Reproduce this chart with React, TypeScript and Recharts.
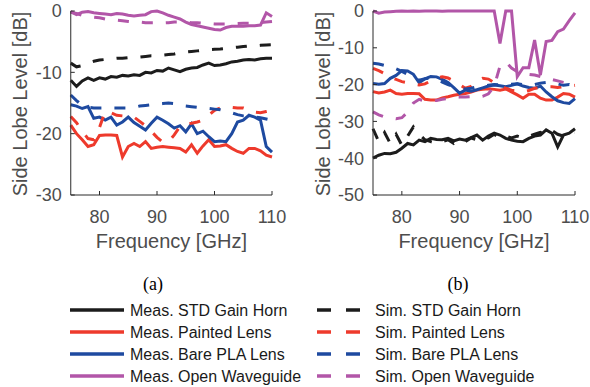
import React from 'react';
import { LineChart, Line, XAxis, YAxis } from 'recharts';

const freq = [
  75, 76, 77, 78, 79, 80, 81, 82, 83, 84, 85, 86, 87, 88, 89, 90, 91, 92,
  93, 94, 95, 96, 97, 98, 99, 100, 101, 102, 103, 104, 105, 106, 107, 108, 109, 110,
];

// (a)
const measStdA = [-11.3, -12.3, -11.4, -10.9, -11.3, -10.9, -11.1, -10.7, -10.8, -10.5, -10.6, -10.4, -10.5, -10.0, -10.1, -9.7, -9.8, -9.3, -9.6, -9.9, -9.5, -9.3, -9.2, -8.8, -8.5, -8.9, -8.8, -8.6, -8.3, -8.2, -8.0, -7.9, -8.0, -7.8, -7.7, -7.7];
const simStdA = [-8.5, -9.1, -8.9, -8.5, -8.2, -8.0, -7.9, -7.8, -7.7, -7.7, -7.6, -7.5, -7.5, -7.4, -7.3, -7.3, -7.2, -7.1, -7.0, -6.8, -6.7, -6.6, -6.5, -6.4, -6.3, -6.25, -6.2, -6.1, -6.0, -5.9, -5.8, -5.7, -5.7, -5.6, -5.55, -5.5];
const measPntA = [-18.6, -20.0, -21.0, -22.1, -21.8, -20.3, -20.2, -20.2, -20.3, -23.8, -22.1, -21.6, -22.1, -21.3, -22.4, -22.2, -22.1, -22.2, -22.3, -22.4, -23.0, -21.8, -23.2, -22.0, -21.0, -22.1, -22.0, -21.8, -22.4, -22.9, -23.2, -22.4, -22.4, -22.8, -23.5, -23.8];
const simPntA = [-17.2, -18.2, -19.6, -20.8, -21.0, -19.0, -16.3, -16.6, -17.0, -17.1, -17.1, -17.3, -18.0, -18.7, -19.6, -20.6, -21.4, -21.3, -20.2, -18.8, -18.4, -18.3, -18.1, -17.8, -17.0, -16.2, -15.8, -15.6, -15.7, -15.8, -15.8, -16.1, -16.5, -16.6, -16.4, -16.2];
const measPlaA = [-15.3, -15.5, -15.9, -15.6, -17.5, -17.3, -17.8, -17.3, -18.6, -18.1, -17.3, -18.2, -18.8, -19.4, -18.3, -17.3, -17.8, -18.4, -19.1, -18.7, -19.7, -18.4, -20.0, -19.6, -20.5, -21.3, -21.2, -21.3, -20.0, -18.1, -17.8, -17.0, -17.3, -17.8, -22.1, -23.0];
const simPlaA = [-13.7, -14.6, -15.4, -15.7, -15.8, -15.8, -15.8, -15.8, -15.8, -15.8, -15.8, -15.7, -15.5, -15.4, -15.3, -15.2, -15.1, -15.0, -15.1, -15.3, -15.5, -15.6, -15.7, -15.8, -15.9, -16.0, -16.1, -16.3, -16.6, -16.9, -17.1, -17.2, -17.3, -17.4, -17.6, -17.8];
const measOwgA = [-0.1, -0.6, -0.2, -0.1, -0.3, -0.4, -0.5, -0.6, -0.4, -0.5, -0.7, -0.8, -0.7, -0.6, -0.1, 0, -0.3, -0.7, -1.0, -1.3, -1.8, -2.2, -2.4, -2.6, -2.8, -3.0, -3.1, -2.7, -2.5, -2.5, -2.5, -2.4, -2.4, -2.3, -0.3, -0.9];
const simOwgA = [-0.2, -0.4, -0.7, -0.9, -1.0, -1.1, -1.3, -1.4, -1.5, -1.6, -1.7, -1.8, -1.8, -1.9, -1.9, -1.9, -1.95, -1.9, -1.8, -1.8, -1.85, -1.9, -1.9, -2.0, -2.0, -2.1, -2.1, -2.1, -2.1, -2.05, -2.0, -2.0, -1.95, -1.9, -1.8, -1.7];

// (b)
const measStdB = [-40.0, -39.2, -38.7, -38.8, -38.4, -37.3, -36.0, -36.4, -35.1, -35.5, -34.6, -34.9, -35.0, -34.6, -35.3, -34.8, -35.1, -34.4, -33.7, -35.1, -34.0, -33.2, -33.7, -34.6, -35.1, -35.4, -35.5, -34.6, -34.0, -33.7, -32.3, -33.2, -36.9, -33.7, -33.2, -32.0];
const simStdB = [-32.0, -35.5, -33.0, -36.0, -33.5, -36.5, -34.0, -31.5, -33.5, -35.0, -35.5, -36.0, -35.5, -35.0, -36.0, -35.0, -35.5, -34.5, -35.0, -34.0, -34.5, -33.5, -34.5, -34.0, -34.5, -34.0, -34.5, -34.0, -33.5, -33.0, -33.5, -32.5, -33.5, -34.0, -33.0, -33.0];
const measPntB = [-21.9, -22.3, -22.0, -21.5, -22.4, -22.6, -22.4, -22.4, -22.5, -24.0, -24.2, -24.2, -23.6, -23.3, -22.9, -22.6, -22.4, -22.0, -21.5, -21.3, -21.1, -21.3, -21.5, -21.2, -22.0, -22.8, -23.7, -22.6, -22.6, -23.7, -24.2, -24.2, -23.4, -22.4, -22.6, -23.4];
const simPntB = [-15.6, -16.2, -17.0, -18.0, -18.6, -19.2, -19.5, -19.8, -20.1, -19.8, -19.0, -18.2, -17.9, -18.2, -19.0, -20.0, -21.0, -20.5, -19.0, -18.3, -18.5, -19.5, -20.5, -21.0, -21.5, -21.8, -22.0, -21.6, -21.0, -20.8, -20.6, -20.6, -20.8, -20.6, -20.4, -20.2];
const measPlaB = [-19.7, -19.9, -19.7, -18.3, -17.5, -16.2, -16.3, -17.2, -19.5, -18.4, -17.8, -17.9, -18.6, -19.4, -20.8, -22.3, -21.5, -21.8, -21.4, -20.9, -20.4, -20.1, -20.3, -20.6, -20.2, -19.8, -20.4, -20.8, -21.0, -20.4, -22.0, -23.3, -24.4, -24.9, -25.1, -23.8];
const simPlaB = [-14.2, -14.4, -14.8, -15.3, -15.7, -16.4, -17.2, -18.0, -18.8, -18.4, -18.2, -18.6, -19.3, -20.0, -20.6, -21.0, -21.2, -21.0, -20.6, -20.4, -20.2, -20.0, -20.1, -20.0, -19.9, -19.8, -20.0, -20.2, -20.0, -19.6, -19.4, -19.5, -19.8, -20.2, -20.0, -20.6];
const measOwgB = [0, -0.6, -0.3, -0.2, -0.1, 0, -0.1, 0, -0.1, 0, 0, 0, -0.1, 0, 0, 0, 0, 0, 0, 0, 0, 0, -8.8, 0, 0, -17.8, -15.4, -15.4, -7.9, -17.4, -8.3, -8.0, -5.6, -4.9, -2.6, -0.5];
const simOwgB = [-27.4, -28.2, -28.8, -29.0, -29.3, -29.0, -27.5, -25.0, -24.0, -24.5, -24.5, -24.3, -24.0, -23.7, -23.5, -23.4, -23.4, -23.3, -23.3, -23.2, -22.5, -20.5, -15.0, -13.8, -15.5, -16.5, -17.0, -17.2, -17.4, -17.8, -18.2, -18.6, -19.0, -19.4, -19.7, -20.0];

const xTicks = [80, 90, 100, 110];
const yTicksA = [-30, -20, -10, 0];
const yTicksB = [-50, -40, -30, -20, -10, 0];

const measNames = ['Meas. STD Gain Horn', 'Meas. Painted Lens', 'Meas. Bare PLA Lens', 'Meas. Open Waveguide'];
const simNames = ['Sim. STD Gain Horn', 'Sim. Painted Lens', 'Sim. Bare PLA Lens', 'Sim. Open Waveguide'];
const seriesColors = ['#1c1c1c', '#ee3a2c', '#1e4aa0', '#b256a8'];
const keys = ['std', 'pnt', 'pla', 'owg'];

const makeRows = (meas: number[][], sim: number[][]) =>
  freq.map((f, i) => {
    const row: Record<string, number> = { f };
    keys.forEach((k, j) => {
      row['m_' + k] = meas[j][i];
      row['s_' + k] = sim[j][i];
    });
    return row;
  });

const rowsA = makeRows([measStdA, measPntA, measPlaA, measOwgA], [simStdA, simPntA, simPlaA, simOwgA]);
const rowsB = makeRows([measStdB, measPntB, measPlaB, measOwgB], [simStdB, simPntB, simPlaB, simOwgB]);

const FONT = '"Liberation Sans", Arial, Helvetica, sans-serif';
const TXT = '#4d4d4d';
const AX = '#2b2b2b';
const DASH = '11 13';

interface PanelProps {
  rows: Record<string, number>[];
  yTicks: number[];
  width: number;
  marginLeft: number;
  marginRight: number;
}

const Panel = ({ rows, yTicks, width, marginLeft, marginRight }: PanelProps) => {
  const yDomain = [yTicks[0], yTicks[yTicks.length - 1]];
  const tickStyle = { fill: TXT, fontSize: 18, fontFamily: FONT };
  return (
    <LineChart
      width={width}
      height={250}
      data={rows}
      margin={{ top: 11, right: marginRight, bottom: 5, left: marginLeft }}
    >
      <XAxis
        dataKey="f"
        type="number"
        domain={[75, 110]}
        ticks={xTicks}
        interval={0}
        height={50}
        stroke={AX}
        tickSize={-4}
        tickMargin={19}
        tick={tickStyle}
      />
      <XAxis
        xAxisId="top"
        orientation="top"
        dataKey="f"
        type="number"
        domain={[75, 110]}
        ticks={xTicks}
        height={0}
        stroke={AX}
        tickSize={-4}
        tickFormatter={() => ''}
      />
      <YAxis
        type="number"
        domain={yDomain}
        ticks={yTicks}
        interval={0}
        width={50}
        stroke={AX}
        tickSize={-4}
        tickMargin={13}
        tick={tickStyle}
      />
      <YAxis
        yAxisId="right"
        orientation="right"
        type="number"
        domain={yDomain}
        ticks={yTicks}
        width={0}
        stroke={AX}
        tickSize={-4}
        tickFormatter={() => ''}
      />
      {keys.map((k, j) => (
        <Line
          key={'m' + k}
          dataKey={'m_' + k}
          stroke={seriesColors[j]}
          strokeWidth={3}
          dot={false}
          isAnimationActive={false}
        />
      ))}
      {keys.map((k, j) => (
        <Line
          key={'s' + k}
          dataKey={'s_' + k}
          stroke={seriesColors[j]}
          strokeWidth={3}
          strokeDasharray={DASH}
          dot={false}
          isAnimationActive={false}
        />
      ))}
    </LineChart>
  );
};

export default function App() {
  const rowY = [310, 332, 354, 376];
  return (
    <div style={{ position: 'absolute', left: 0, top: 0, width: 590, height: 387, background: '#fff' }}>
      <div style={{ position: 'absolute', left: 0, top: 0 }}>
        <Panel rows={rowsA} yTicks={yTicksA} width={290} marginLeft={20.75} marginRight={18} />
      </div>
      <div style={{ position: 'absolute', left: 295, top: 0 }}>
        <Panel rows={rowsB} yTicks={yTicksB} width={295} marginLeft={28} marginRight={15} />
      </div>
      <svg width={590} height={387} style={{ position: 'absolute', left: 0, top: 0, pointerEvents: 'none' }}>
        <g fontFamily={FONT} fill={TXT} fontSize={20}>
          <text x={27} y={104} textAnchor="middle" transform="rotate(-90 27 104)">Side Lobe Level [dB]</text>
          <text x={330} y={104} textAnchor="middle" transform="rotate(-90 330 104)">Side Lobe Level [dB]</text>
          <text x={171.4} y={248} textAnchor="middle">Frequency [GHz]</text>
          <text x={474} y={248} textAnchor="middle">Frequency [GHz]</text>
        </g>
        <g fontFamily='"Liberation Serif", "Times New Roman", serif' fontSize={18} fill="#000">
          <text x={153} y={290} textAnchor="middle">(a)</text>
          <text x={458} y={290} textAnchor="middle">(b)</text>
        </g>
        <g fontFamily={FONT} fontSize={16} fill="#1a1a1a">
          {measNames.map((name, i) => (
            <g key={name}>
              <line x1={70} x2={124} y1={rowY[i]} y2={rowY[i]} stroke={seriesColors[i]} strokeWidth={3.5} />
              <text x={130} y={rowY[i]} dominantBaseline="central">{name}</text>
            </g>
          ))}
          {simNames.map((name, i) => (
            <g key={name}>
              <line x1={317} x2={360} y1={rowY[i]} y2={rowY[i]} stroke={seriesColors[i]} strokeWidth={3.5} strokeDasharray="14 15" />
              <text x={375} y={rowY[i]} dominantBaseline="central">{name}</text>
            </g>
          ))}
        </g>
      </svg>
    </div>
  );
}
